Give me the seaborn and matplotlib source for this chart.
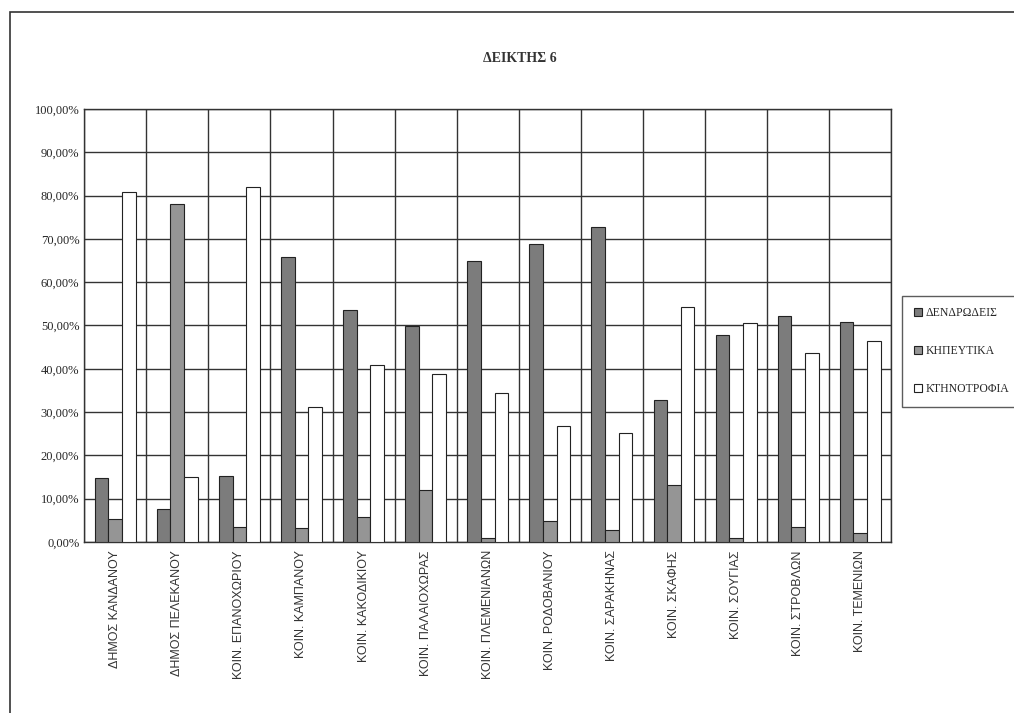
import pandas as pd
import seaborn as sns
from matplotlib import pyplot as plt
from matplotlib.ticker import FuncFormatter, MultipleLocator
from matplotlib.patches import Rectangle


regions = ["ΔΗΜΟΣ ΚΑΝΔΑΝΟΥ", "ΔΗΜΟΣ ΠΕΛΕΚΑΝΟΥ", "ΚΟΙΝ. ΕΠΑΝΟΧΩΡΙΟΥ", "ΚΟΙΝ. ΚΑΜΠΑΝΟΥ",
           "ΚΟΙΝ. ΚΑΚΟΔΙΚΙΟΥ", "ΚΟΙΝ. ΠΑΛΑΙΟΧΩΡΑΣ", "ΚΟΙΝ. ΠΛΕΜΕΝΙΑΝΩΝ", "ΚΟΙΝ. ΡΟΔΟΒΑΝΙΟΥ",
           "ΚΟΙΝ. ΣΑΡΑΚΗΝΑΣ", "ΚΟΙΝ. ΣΚΑΦΗΣ", "ΚΟΙΝ. ΣΟΥΓΙΑΣ", "ΚΟΙΝ. ΣΤΡΟΒΛΩΝ", "ΚΟΙΝ. ΤΕΜΕΝΙΩΝ"]
series = ["ΔΕΝΔΡΩΔΕΙΣ", "ΚΗΠΕΥΤΙΚΑ", "ΚΤΗΝΟΤΡΟΦΙΑ"]
dendrodeis = [14.8, 7.7, 15.3, 65.9, 53.6, 49.8, 64.8, 68.8, 72.7, 32.7, 47.8, 52.3, 50.8]
kipeftika = [5.2, 78.0, 3.4, 3.3, 5.8, 12.1, 0.9, 4.8, 2.8, 13.1, 0.9, 3.5, 2.1]
ktinotrofia = [80.9, 14.9, 81.9, 31.2, 40.9, 38.8, 34.5, 26.8, 25.2, 54.2, 50.5, 43.6, 46.5]

rows = []
for name, vals in zip(series, [dendrodeis, kipeftika, ktinotrofia]):
    for reg, v in zip(regions, vals):
        rows.append({"region": reg, "series": name, "value": v})
df = pd.DataFrame(rows)

sns.set_style("white")
plt.rcParams['font.family'] = ['Liberation Serif', 'DejaVu Serif']

fig = plt.figure(figsize=(10.14, 7.13), dpi=100)
ax = fig.add_axes([0.083, 0.24, 0.796, 0.607])

palette = {"ΔΕΝΔΡΩΔΕΙΣ": "#7c7c7c", "ΚΗΠΕΥΤΙΚΑ": "#959595", "ΚΤΗΝΟΤΡΟΦΙΑ": "#ffffff"}
sns.barplot(data=df, x="region", y="value", hue="series", palette=palette,
            width=0.66, edgecolor="#222222", linewidth=0.8, ax=ax, zorder=3)

ax.set_ylim(0, 100)
ax.set_xlim(-0.5, len(regions) - 0.5)
ax.yaxis.set_major_locator(MultipleLocator(10))
ax.yaxis.set_major_formatter(FuncFormatter(lambda v, p: f"{v:.2f}%".replace(".", ",")))
ax.set_xticks(range(len(regions)))
ax.set_xticklabels(regions, rotation=90, fontsize=9, family=['Liberation Sans', 'DejaVu Sans'],
                   color="#333333")
ax.set_xticks([i - 0.5 for i in range(len(regions) + 1)], minor=True)
ax.tick_params(axis="y", labelsize=9, length=0)
ax.tick_params(axis="x", which="major", length=0, pad=6)
ax.tick_params(axis="x", which="minor", length=5, color="#333333")
ax.grid(axis="y", which="major", color="#333333", linewidth=1.0, zorder=0)
ax.grid(axis="x", which="minor", color="#333333", linewidth=1.0, zorder=0)
ax.set_axisbelow(True)
for s in ax.spines.values():
    s.set_color("#333333")
    s.set_linewidth(1.0)
ax.set_xlabel("")
ax.set_ylabel("")

leg = ax.legend(loc="center left", bbox_to_anchor=(1.013, 0.44), frameon=True, fancybox=False,
                edgecolor="#333333", fontsize=8.5, handlelength=0.7, handleheight=0.7,
                handletextpad=0.3, labelspacing=2.2, borderpad=1.0, borderaxespad=0)
leg.get_frame().set_linewidth(1.0)

fig.text(0.513, 0.918, "ΔΕΙΚΤΗΣ 6", ha="center", va="center", fontsize=10, fontweight="bold",
         color="#333333")

# outer chart frame
fig.patches.append(Rectangle((0.01, -0.05), 1.1, 1.033, transform=fig.transFigure,
                             fill=False, edgecolor="#333333", linewidth=1.2))

plt.savefig("out.png", dpi=100)
